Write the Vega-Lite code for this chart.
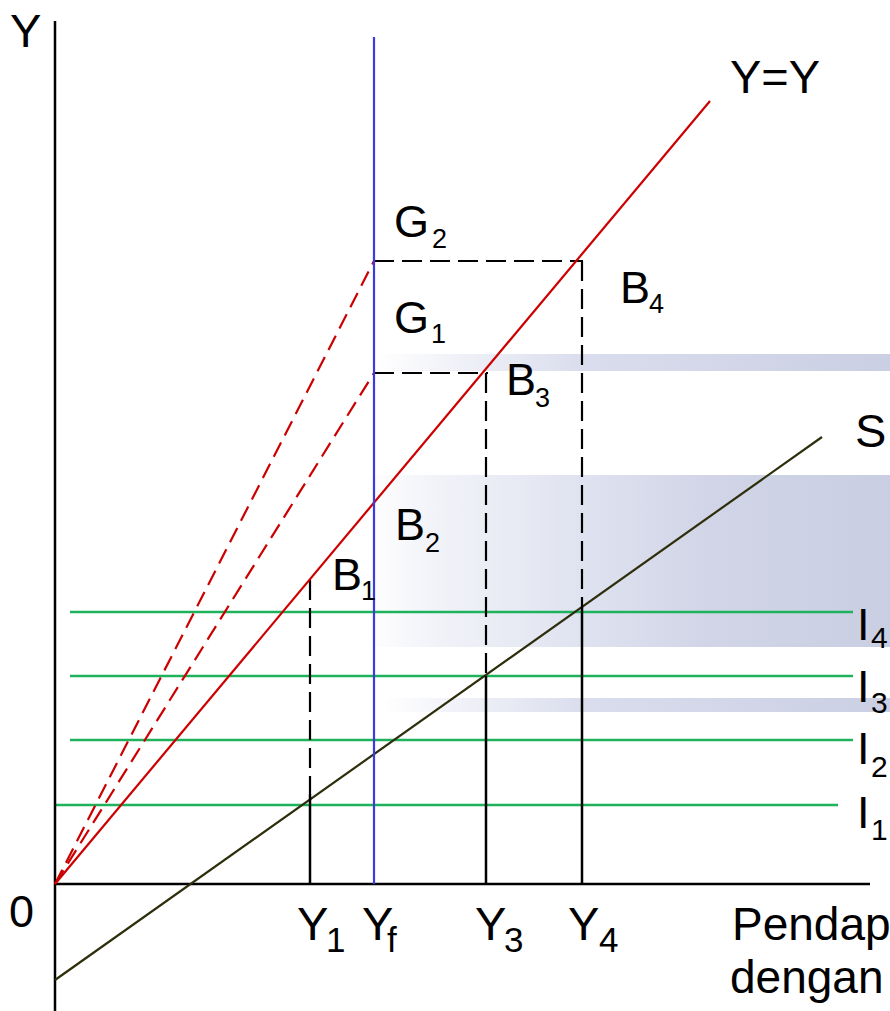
{
  "$schema": "https://vega.github.io/schema/vega-lite/v6.json",
  "width": 890,
  "height": 1011,
  "autosize": {"type": "none"},
  "padding": 0,
  "background": "white",
  "config": {"view": {"stroke": null}},
  "datasets": {
    "bands": [
      {"band": "A", "x": 320, "x2": 835, "y": 513, "y2": 530},
      {"band": "B", "x": 310, "x2": 835, "y": 237, "y2": 409},
      {"band": "C", "x": 325, "x2": 835, "y": 172, "y2": 186}
    ],
    "segments": [
      {"kind": "axis", "x": 0, "y": -127, "x2": 0, "y2": 863},
      {"kind": "axis", "x": 0, "y": 0, "x2": 815, "y2": 0},
      {"kind": "invest", "x": 15, "y": 272, "x2": 798, "y2": 272},
      {"kind": "invest", "x": 15, "y": 208, "x2": 798, "y2": 208},
      {"kind": "invest", "x": 15, "y": 144, "x2": 798, "y2": 144},
      {"kind": "invest", "x": 0, "y": 79, "x2": 783, "y2": 79},
      {"kind": "saving", "x": 0, "y": -96, "x2": 767, "y2": 447},
      {"kind": "guide_dash", "x": 319, "y": 623, "x2": 528, "y2": 623},
      {"kind": "guide_dash", "x": 319, "y": 511, "x2": 433, "y2": 511},
      {"kind": "guide_dash", "x": 527, "y": 623, "x2": 527, "y2": 277},
      {"kind": "guide_dash", "x": 431, "y": 511, "x2": 431, "y2": 208},
      {"kind": "guide_dash", "x": 255, "y": 304, "x2": 255, "y2": 90},
      {"kind": "guide_solid", "x": 527, "y": 277, "x2": 527, "y2": 0},
      {"kind": "guide_solid", "x": 431, "y": 208, "x2": 431, "y2": 0},
      {"kind": "guide_solid", "x": 255, "y": 90, "x2": 255, "y2": 0},
      {"kind": "ratio_dash", "x": 0, "y": 0, "x2": 319, "y2": 511},
      {"kind": "ratio_dash", "x": 0, "y": 0, "x2": 319, "y2": 623},
      {"kind": "identity", "x": 0, "y": 0, "x2": 655, "y2": 783},
      {"kind": "full_emp", "x": 319, "y": 0, "x2": 319, "y2": 847}
    ],
    "labels": [
      {"role": "big", "x": -45, "y": 837, "label": "Y"},
      {"role": "big", "x": 675, "y": 791, "label": "Y=Y"},
      {"role": "main", "x": 339, "y": 647, "label": "G"},
      {"role": "main", "x": 339, "y": 551, "label": "G"},
      {"role": "main", "x": 565, "y": 581, "label": "B"},
      {"role": "main", "x": 451, "y": 489, "label": "B"},
      {"role": "main", "x": 340, "y": 344, "label": "B"},
      {"role": "main", "x": 277, "y": 294, "label": "B"},
      {"role": "big", "x": 800, "y": 437, "label": "S"},
      {"role": "main", "x": 802, "y": 244, "label": "I"},
      {"role": "main", "x": 802, "y": 182, "label": "I"},
      {"role": "main", "x": 802, "y": 120, "label": "I"},
      {"role": "main", "x": 802, "y": 56, "label": "I"},
      {"role": "main", "x": -46, "y": -43, "label": "0"},
      {"role": "big", "x": 242, "y": -56, "label": "Y"},
      {"role": "big", "x": 307, "y": -56, "label": "Y"},
      {"role": "big", "x": 420, "y": -56, "label": "Y"},
      {"role": "big", "x": 513, "y": -56, "label": "Y"},
      {"role": "title", "x": 677, "y": -56, "label": "Pendapatan"},
      {"role": "title", "x": 675, "y": -109, "label": "dengan harga"},
      {"role": "sub", "x": 377, "y": 636, "label": "2"},
      {"role": "sub", "x": 376, "y": 541, "label": "1"},
      {"role": "sub", "x": 594, "y": 571, "label": "4"},
      {"role": "sub", "x": 480, "y": 477, "label": "3"},
      {"role": "sub", "x": 370, "y": 332, "label": "2"},
      {"role": "sub", "x": 306, "y": 284, "label": "1"},
      {"role": "isub", "x": 816, "y": 236, "label": "4"},
      {"role": "isub", "x": 816, "y": 171, "label": "3"},
      {"role": "isub", "x": 816, "y": 107, "label": "2"},
      {"role": "isub", "x": 816, "y": 44, "label": "1"},
      {"role": "axsub", "x": 271, "y": -68, "label": "1"},
      {"role": "axsub", "x": 332, "y": -68, "label": "f"},
      {"role": "axsub", "x": 449, "y": -68, "label": "3"},
      {"role": "axsub", "x": 544, "y": -68, "label": "4"}
    ]
  },
  "encoding": {
    "x": {"field": "x", "type": "quantitative", "scale": {"domain": [-55, 835], "nice": false, "zero": false}, "axis": null},
    "y": {"field": "y", "type": "quantitative", "scale": {"domain": [-127, 884], "nice": false, "zero": false}, "axis": null}
  },
  "layer": [
    {
      "data": {"name": "bands"},
      "transform": [{"filter": "datum.band === 'B'"}],
      "mark": {"type": "rect", "color": {"gradient": "linear", "x1": 0, "y1": 0, "x2": 1, "y2": 0, "stops": [{"offset": 0, "color": "#ffffff"}, {"offset": 0.12, "color": "#f3f4f9"}, {"offset": 0.4, "color": "#e0e3f0"}, {"offset": 0.65, "color": "#d1d5e7"}, {"offset": 1, "color": "#c9cee2"}]}},
      "encoding": {"x2": {"field": "x2"}, "y2": {"field": "y2"}}
    },
    {
      "data": {"name": "bands"},
      "transform": [{"filter": "datum.band !== 'B'"}],
      "mark": {"type": "rect", "color": {"gradient": "linear", "x1": 0, "y1": 0, "x2": 1, "y2": 0, "stops": [{"offset": 0, "color": "#ffffff"}, {"offset": 0.4, "color": "#dadded"}, {"offset": 1, "color": "#cacfe3"}]}},
      "encoding": {"x2": {"field": "x2"}, "y2": {"field": "y2"}}
    },
    {
      "data": {"name": "segments"},
      "transform": [{"filter": "datum.kind === 'invest'"}],
      "mark": {"type": "rule", "color": "#1fb25c", "strokeWidth": 2.5},
      "encoding": {"x2": {"field": "x2"}, "y2": {"field": "y2"}}
    },
    {
      "data": {"name": "segments"},
      "transform": [{"filter": "datum.kind === 'axis'"}],
      "mark": {"type": "rule", "color": "#000000", "strokeWidth": 2.5},
      "encoding": {"x2": {"field": "x2"}, "y2": {"field": "y2"}}
    },
    {
      "data": {"name": "segments"},
      "transform": [{"filter": "datum.kind === 'saving'"}],
      "mark": {"type": "rule", "color": "#2e2e0c", "strokeWidth": 2.2},
      "encoding": {"x2": {"field": "x2"}, "y2": {"field": "y2"}}
    },
    {
      "data": {"name": "segments"},
      "transform": [{"filter": "datum.kind === 'guide_dash'"}],
      "mark": {"type": "rule", "color": "#000000", "strokeWidth": 2.2, "strokeDash": [20, 8]},
      "encoding": {"x2": {"field": "x2"}, "y2": {"field": "y2"}}
    },
    {
      "data": {"name": "segments"},
      "transform": [{"filter": "datum.kind === 'guide_solid'"}],
      "mark": {"type": "rule", "color": "#000000", "strokeWidth": 2.5},
      "encoding": {"x2": {"field": "x2"}, "y2": {"field": "y2"}}
    },
    {
      "data": {"name": "segments"},
      "transform": [{"filter": "datum.kind === 'ratio_dash'"}],
      "mark": {"type": "rule", "color": "#cc0000", "strokeWidth": 2.2, "strokeDash": [16, 8]},
      "encoding": {"x2": {"field": "x2"}, "y2": {"field": "y2"}}
    },
    {
      "data": {"name": "segments"},
      "transform": [{"filter": "datum.kind === 'identity'"}],
      "mark": {"type": "rule", "color": "#cc0000", "strokeWidth": 2.2},
      "encoding": {"x2": {"field": "x2"}, "y2": {"field": "y2"}}
    },
    {
      "data": {"name": "segments"},
      "transform": [{"filter": "datum.kind === 'full_emp'"}],
      "mark": {"type": "rule", "color": "#3b3bde", "strokeWidth": 2.2},
      "encoding": {"x2": {"field": "x2"}, "y2": {"field": "y2"}}
    },
    {
      "data": {"name": "labels"},
      "transform": [{"filter": "datum.role === 'main'"}],
      "mark": {"type": "text", "align": "left", "baseline": "alphabetic", "font": "Liberation Sans", "fontSize": 45, "color": "#000000"},
      "encoding": {"text": {"field": "label"}}
    },
    {
      "data": {"name": "labels"},
      "transform": [{"filter": "datum.role === 'title'"}],
      "mark": {"type": "text", "align": "left", "baseline": "alphabetic", "font": "Liberation Sans", "fontSize": 46, "color": "#000000"},
      "encoding": {"text": {"field": "label"}}
    },
    {
      "data": {"name": "labels"},
      "transform": [{"filter": "datum.role === 'big'"}],
      "mark": {"type": "text", "align": "left", "baseline": "alphabetic", "font": "Liberation Sans", "fontSize": 47, "color": "#000000"},
      "encoding": {"text": {"field": "label"}}
    },
    {
      "data": {"name": "labels"},
      "transform": [{"filter": "datum.role === 'sub'"}],
      "mark": {"type": "text", "align": "left", "baseline": "alphabetic", "font": "Liberation Sans", "fontSize": 27, "color": "#000000"},
      "encoding": {"text": {"field": "label"}}
    },
    {
      "data": {"name": "labels"},
      "transform": [{"filter": "datum.role === 'isub'"}],
      "mark": {"type": "text", "align": "left", "baseline": "alphabetic", "font": "Liberation Sans", "fontSize": 30, "color": "#000000"},
      "encoding": {"text": {"field": "label"}}
    },
    {
      "data": {"name": "labels"},
      "transform": [{"filter": "datum.role === 'axsub'"}],
      "mark": {"type": "text", "align": "left", "baseline": "alphabetic", "font": "Liberation Sans", "fontSize": 35, "color": "#000000"},
      "encoding": {"text": {"field": "label"}}
    }
  ]
}
